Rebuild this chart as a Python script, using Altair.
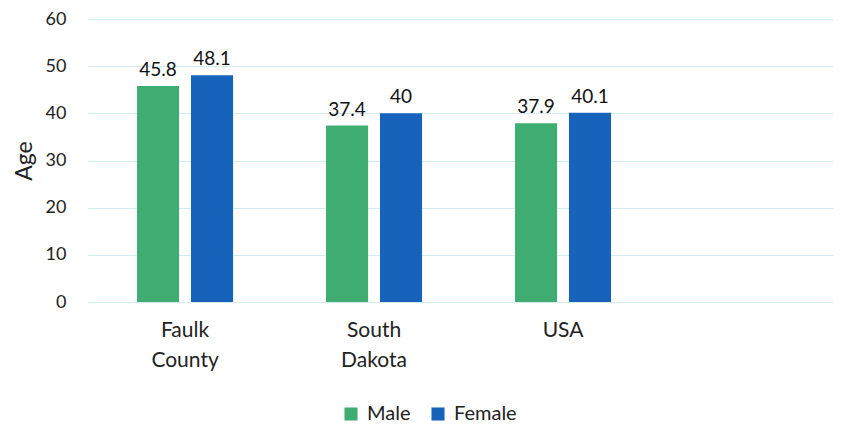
import altair as alt
import pandas as pd

regions = ["Faulk County", "South Dakota", "USA"]
male = [45.8, 37.4, 37.9]
female = [48.1, 40, 40.1]
sexes = ["Male", "Female"]
colors = ["#3fad72", "#1763bb"]

rows = []
for r, m, f in zip(regions, male, female):
    rows.append({"region": r, "sex": "Male", "age": m})
    rows.append({"region": r, "sex": "Female", "age": f})
df = pd.DataFrame(rows)

FONT = "Lato"

x = alt.X("region:N", sort=regions, title=None,
          scale=alt.Scale(paddingInner=0.492, paddingOuter=0.717, align=0.181),
          axis=alt.Axis(labelAngle=0, labelFontSize=21, labelColor="#222", grid=False,
                        labelExpr="split(datum.label, ' ')", labelLineHeight=30,
                        labelBaseline="top", labelPadding=17, ticks=False, domain=False,
                        labelFont=FONT))
xo = alt.XOffset("sex:N", sort=sexes, scale=alt.Scale(paddingInner=0.22, paddingOuter=0))
y = alt.Y("age:Q", title="Age", scale=alt.Scale(domain=[0, 60]),
          axis=alt.Axis(values=[0, 10, 20, 30, 40, 50, 60], labelFontSize=18, labelColor="#222",
                        labelPadding=22, ticks=False, domain=False, titleFontSize=23,
                        titleFontWeight="normal", titleColor="#222", titlePadding=9,
                        gridColor="#d3ecf3", gridWidth=1.2, labelFont=FONT, titleFont=FONT))
color = alt.Color("sex:N", sort=sexes, scale=alt.Scale(domain=sexes, range=colors),
                  legend=alt.Legend(title=None, orient="none", direction="horizontal",
                                    legendX=253, legendY=385, symbolType="square",
                                    symbolSize=170, symbolStrokeWidth=0, labelFontSize=20,
                                    labelColor="#222", labelFont=FONT, columnPadding=17,
                                    labelOffset=6))

bars = alt.Chart(df).mark_bar(opacity=1).encode(x=x, xOffset=xo, y=y, color=color)
labels = alt.Chart(df).mark_text(dy=-10, baseline="alphabetic", fontSize=19, font=FONT,
                                 color="#111").encode(
    x=x, xOffset=xo, y=y, text=alt.Text("age:Q"))

chart = (bars + labels).properties(
    width=745, height=283,
    background="white",
    autosize=alt.AutoSizeParams(type="none"),
    padding={"left": 80, "top": 11, "right": 0, "bottom": 122},
).configure_view(stroke="transparent", strokeWidth=0)

chart.save("out.html", embed_options={"renderer": "svg", "actions": False})
